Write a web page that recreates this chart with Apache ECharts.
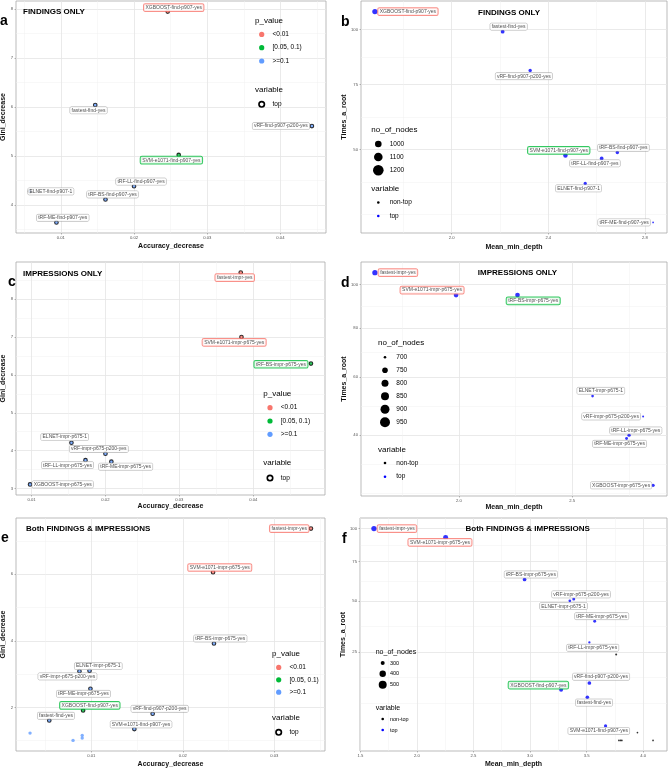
<!DOCTYPE html>
<html><head><meta charset="utf-8">
<script src="https://cdn.jsdelivr.net/npm/echarts@6/dist/echarts.min.js"></script>
<style>html,body{margin:0;padding:0;background:#fff}#c{width:669px;height:770px}</style>
</head><body><div id="c"></div><script>
// ---------------- DATA ----------------
const pLevels = ['<0.01', '[0.05, 0.1)', '>=0.1'];

// a: FINDINGS ONLY (Accuracy_decrease vs Gini_decrease)
const aNames = ['XGBOOST-find-p907-yes','fastest-find-yes','vRF-find-p907-p200-yes','SVM-e1071-find-p907-yes','tRF-LL-find-p907-yes','ELNET-find-p907-1','tRF-BS-find-p907-yes','tRF-ME-find-p907-yes'];
const aAcc  = [0.0246, 0.0147, 0.0443, 0.0261, 0.0200, 0.0058, 0.0161, 0.0094];
const aGini = [7.95, 6.04, 5.61, 5.02, 4.38, 4.28, 4.11, 3.64];
const aP    = ['<0.01','>=0.1','>=0.1','[0.05, 0.1)','>=0.1','>=0.1','>=0.1','>=0.1'];
const aTop  = [true,true,true,true,true,true,true,true];

// b: FINDINGS ONLY (Mean_min_depth vs Times_a_root)
const bNames = ['XGBOOST-find-p907-yes','fastest-find-yes','vRF-find-p907-p200-yes','SVM-e1071-find-p907-yes','tRF-BS-find-p907-yes','tRF-LL-find-p907-yes','ELNET-find-p907-1','tRF-ME-find-p907-yes'];
const bDepth = [1.682, 2.211, 2.325, 2.471, 2.686, 2.621, 2.553, 2.834];
const bRoot  = [109, 99, 81, 48, 49, 47, 39, 28];
const bNodes = [1230, 1005, 965, 1095, 965, 995, 955, 890];
const bP     = ['<0.01','>=0.1','>=0.1','[0.05, 0.1)','>=0.1','>=0.1','>=0.1','>=0.1'];
const bTop   = [true,true,true,true,true,true,true,true];

// c: IMPRESSIONS ONLY
const cNames = ['fastest-impr-yes','SVM-e1071-impr-p675-yes','tRF-BS-impr-p675-yes','ELNET-impr-p675-1','vRF-impr-p675-p200-yes','tRF-LL-impr-p675-yes','tRF-ME-impr-p675-yes','XGBOOST-impr-p675-yes'];
const cAcc  = [0.0383, 0.0384, 0.0478, 0.0154, 0.0200, 0.0173, 0.0208, 0.0098];
const cGini = [8.70, 7.00, 6.30, 4.21, 3.92, 3.75, 3.71, 3.11];
const cP    = ['<0.01','<0.01','[0.05, 0.1)','>=0.1','>=0.1','>=0.1','>=0.1','>=0.1'];
const cTop  = [true,true,true,true,true,true,true,true];

// d: IMPRESSIONS ONLY
const dNames = ['fastest-impr-yes','SVM-e1071-impr-p675-yes','tRF-BS-impr-p675-yes','ELNET-impr-p675-1','vRF-impr-p675-p200-yes','tRF-LL-impr-p675-yes','tRF-ME-impr-p675-yes','XGBOOST-impr-p675-yes'];
const dDepth = [1.630, 1.988, 2.259, 2.590, 2.813, 2.751, 2.740, 2.857];
const dRoot  = [106, 95, 95, 53, 46, 40, 39, 26];
const dNodes = [960, 870, 865, 690, 680, 725, 700, 725];
const dP     = ['<0.01','<0.01','[0.05, 0.1)','>=0.1','>=0.1','>=0.1','>=0.1','>=0.1'];
const dTop   = [true,true,true,true,true,true,true,true];

// e: Both FINDINGS & IMPRESSIONS
const eNames = ['fastest-impr-yes','SVM-e1071-impr-p675-yes','tRF-BS-impr-p675-yes','ELNET-impr-p675-1','vRF-impr-p675-p200-yes','tRF-ME-impr-p675-yes','XGBOOST-find-p907-yes','vRF-find-p907-p200-yes','fastest-find-yes','SVM-e1071-find-p907-yes','tRF-LL-find-p907-yes','ELNET-find-p907-1','tRF-BS-find-p907-yes','tRF-ME-find-p907-yes'];
const eAcc  = [0.0340, 0.0233, 0.0234, 0.0098, 0.0087, 0.0099, 0.0091, 0.0167, 0.0054, 0.0147, 0.0033, 0.0080, 0.0090, 0.0090];
const eGini = [7.37, 6.06, 3.92, 3.10, 3.09, 2.56, 1.91, 1.81, 1.61, 1.35, 1.23, 1.01, 1.16, 1.08];
const eP    = ['<0.01','<0.01','>=0.1','>=0.1','>=0.1','>=0.1','[0.05, 0.1)','>=0.1','>=0.1','>=0.1','>=0.1','>=0.1','>=0.1','>=0.1'];
const eTop  = [true,true,true,true,true,true,true,true,true,true,false,false,false,false];

// f: Both FINDINGS & IMPRESSIONS
const fNames = ['fastest-impr-yes','SVM-e1071-impr-p675-yes','tRF-BS-impr-p675-yes','vRF-impr-p675-p200-yes','ELNET-impr-p675-1','tRF-ME-impr-p675-yes','tRF-LL-impr-p675-yes','XGBOOST-impr-p675-yes','vRF-find-p907-p200-yes','XGBOOST-find-p907-yes','fastest-find-yes','SVM-e1071-find-p907-yes','tRF-LL-find-p907-yes','ELNET-find-p907-1','tRF-BS-find-p907-yes','tRF-ME-find-p907-yes','ELNET-impr-p675-0'];
const fDepth = [1.620, 2.254, 2.952, 3.387, 3.352, 3.572, 3.525, 3.762, 3.525, 3.275, 3.507, 3.668, 3.950, 3.786, 3.800, 3.812, 4.088];
const fRoot  = [100, 93, 63, 51, 50, 39, 29, 24, 14, 12, 10, 4, 3, 2, 2, 2, 2];
const fNodes = [540, 485, 305, 245, 225, 240, 210, 203, 305, 340, 300, 265, 200, 200, 200, 200, 200];
const fP     = ['<0.01','<0.01','>=0.1','>=0.1','>=0.1','>=0.1','>=0.1','>=0.1','>=0.1','[0.05, 0.1)','>=0.1','>=0.1','>=0.1','>=0.1','>=0.1','>=0.1','>=0.1'];
const fTop   = [true,true,true,true,true,true,true,false,true,true,true,true,false,false,false,false,false];

// tick labels
const aXTicks = [0.01, 0.02, 0.03, 0.04];   const aYTicks = [4, 5, 6, 7, 8];
const bXTicks = [2.0, 2.4, 2.8];            const bYTicks = [50, 75, 100];
const cXTicks = [0.01, 0.02, 0.03, 0.04];   const cYTicks = [3, 4, 5, 6, 7, 8];
const dXTicks = [2.0, 2.5];                 const dYTicks = [40, 60, 80, 100];
const eXTicks = [0.01, 0.02, 0.03];         const eYTicks = [2, 4, 6];
const fXTicks = [1.5, 2.0, 2.5, 3.0, 3.5, 4.0]; const fYTicks = [25, 50, 75, 100];

// legend breaks
const bSizeBreaks = [1000, 1100, 1200];
const dSizeBreaks = [700, 750, 800, 850, 900, 950];
const fSizeBreaks = [300, 400, 500];

// ---------------- LAYOUT / STYLE ----------------
const FONT = '"Liberation Sans", Arial, sans-serif';
const pColor = {'<0.01':'#F8766D','[0.05, 0.1)':'#00BA38','>=0.1':'#619CFF'};
const aLabelOffset = [[6,-4],[-6.7,5.3],[-31,0],[-7.3,5.3],[7,-4.7],[20.7,0.3],[7,-5],[6.3,-4.7]];
const bLabelOffset = [[33,0],[6,-5],[-6.3,5.7],[-6.7,-5],[6,-4.7],[-6.7,5],[-6.7,5],[-29,0]];
const cLabelOffset = [[-6,5],[-7.3,5.3],[-30,0.7],[-6.7,-5.7],[-6.7,-4.7],[-18,5],[14.3,5],[32.7,0]];
const dLabelOffset = [[23,0],[-24,-5],[15.7,5.7],[8.3,-5.3],[-32,0],[6.7,-4.7],[-7,5.3],[-32,0]];
const eLabelOffset = [[-21.7,0],[6.7,-4.7],[6.3,-5],[8.7,-4.7],[-12,5.3],[-7,5],[6.7,-5],[7,-5],[6.7,-4.7],[6.7,-4.7],null,null,null,null];
const fLabelOffset = [[23,0],[-5.7,5],[6.3,-5],[7.3,-4.7],[-6.3,5.3],[7,-5],[3.3,5.3],null,[11.7,-6.3],[-22.7,-4.7],[6.7,5.3],[-6.7,5],null,null,null,null,null];

const panels = [
  {kind:'imp', names:aNames, x:aAcc, y:aGini, p:aP, top:aTop, off:aLabelOffset, xt:aXTicks, yt:aYTicks, xdec:2, sqrt:false,
   grid:{left:16, top:1, width:310, height:232}, xName:'Accuracy_decrease', yName:'Gini_decrease', xGap:10, yGap:6.5},
  {kind:'depth', names:bNames, x:bDepth, y:bRoot, p:bP, top:bTop, nodes:bNodes, dmin:1.7, dmax:5.3, off:bLabelOffset, xt:bXTicks, yt:bYTicks, xdec:1, sqrt:true,
   grid:{left:361, top:1, width:306, height:232}, xName:'Mean_min_depth', yName:'Times_a_root', xGap:10.5, yGap:11.5},
  {kind:'imp', names:cNames, x:cAcc, y:cGini, p:cP, top:cTop, off:cLabelOffset, xt:cXTicks, yt:cYTicks, xdec:2, sqrt:false,
   grid:{left:16, top:262, width:309, height:233}, xName:'Accuracy_decrease', yName:'Gini_decrease', xGap:8, yGap:6.5},
  {kind:'depth', names:dNames, x:dDepth, y:dRoot, p:dP, top:dTop, nodes:dNodes, dmin:2, dmax:5.3, off:dLabelOffset, xt:dXTicks, yt:dYTicks, xdec:1, sqrt:true,
   grid:{left:361, top:262, width:306, height:234}, xName:'Mean_min_depth', yName:'Times_a_root', xGap:8, yGap:11.5},
  {kind:'imp', names:eNames, x:eAcc, y:eGini, p:eP, top:eTop, off:eLabelOffset, xt:eXTicks, yt:eYTicks, xdec:2, sqrt:false,
   grid:{left:16, top:518, width:309, height:233}, xName:'Accuracy_decrease', yName:'Gini_decrease', xGap:10, yGap:6.5},
  {kind:'depth', names:fNames, x:fDepth, y:fRoot, p:fP, top:fTop, nodes:fNodes, dmin:1.7, dmax:5.3, off:fLabelOffset, xt:fXTicks, yt:fYTicks, xdec:1, sqrt:true,
   grid:{left:360, top:518, width:307, height:233}, xName:'Mean_min_depth', yName:'Times_a_root', xGap:10, yGap:9.5}
];

function expand(vals){const mn=Math.min(...vals),mx=Math.max(...vals),r=mx-mn;return [mn-0.05*r,mx+0.05*r];}
function regularMinor(b, lo, hi){
  b=b.slice(); const bd=b[1]-b[0];
  if(lo<b[0]) b.unshift(b[0]-bd);
  if(hi>b[b.length-1]) b.push(b[b.length-1]+bd);
  const out=[];
  for(let i=0;i<b.length-1;i++){out.push((b[i]+b[i+1])/2); if(i>0) {} }
  out.push(b[0]); out.push(b[b.length-1]);
  return out.filter(v=>v>lo&&v<hi);
}

const grids=[], xMajor=[], yMajor=[], xMinor=[], yMinor=[], series=[];
const tickLabelStyle={fontSize:4.2, color:'#555', fontFamily:FONT};
const nameStyle={fontSize:7, fontWeight:'bold', color:'#111', fontFamily:FONT};

panels.forEach((P, k)=>{
  grids.push(Object.assign({show:true, borderColor:'#a9a9a9', borderWidth:0.8, backgroundColor:'#fff', containLabel:false, outerBoundsMode:'none'}, P.grid));
  const yT = P.sqrt ? P.y.map(Math.sqrt) : P.y.slice();
  const [xlo,xhi]=expand(P.x), [ylo,yhi]=expand(yT);
  const xMaj=P.xt.slice(), yMaj=P.sqrt? P.yt.map(Math.sqrt): P.yt.slice();
  const xMin=regularMinor(xMaj,xlo,xhi), yMin=regularMinor(yMaj,ylo,yhi);
  const xfmt = v=>(+v).toFixed(P.xdec);
  const yfmt = P.sqrt ? (v=>String(Math.round(v*v))) : (v=>String(Math.round(v)));
  xMajor.push({type:'value', gridIndex:k, min:xlo, max:xhi, position:'bottom',
    axisLine:{show:false}, axisTick:{show:true, length:1.5, customValues:xMaj, lineStyle:{color:'#777', width:0.5}},
    axisLabel:Object.assign({show:true, customValues:xMaj, formatter:xfmt, margin:3}, tickLabelStyle),
    splitLine:{show:true, lineStyle:{color:'#e4e4e4', width:0.8}},
    name:P.xName, nameLocation:'middle', nameGap:P.xGap, nameTextStyle:nameStyle});
  yMajor.push({type:'value', gridIndex:k, min:ylo, max:yhi, position:'left',
    axisLine:{show:false}, axisTick:{show:true, length:1.5, customValues:yMaj, lineStyle:{color:'#777', width:0.5}},
    axisLabel:Object.assign({show:true, customValues:yMaj, formatter:yfmt, margin:3}, tickLabelStyle),
    splitLine:{show:true, lineStyle:{color:'#e4e4e4', width:0.8}},
    name:P.yName, nameLocation:'middle', nameGap:P.yGap, nameTextStyle:nameStyle});
  xMinor.push({type:'value', gridIndex:k, min:xlo, max:xhi, position:'top', axisLine:{show:false},
    axisTick:{show:false, customValues:xMin}, axisLabel:{show:false, customValues:xMin},
    splitLine:{show:true, lineStyle:{color:'#f1f1f1', width:0.5}}});
  yMinor.push({type:'value', gridIndex:k, min:ylo, max:yhi, position:'right', axisLine:{show:false},
    axisTick:{show:false, customValues:yMin}, axisLabel:{show:false, customValues:yMin},
    splitLine:{show:true, lineStyle:{color:'#f1f1f1', width:0.5}}});

  let sizeOf=null;
  if(P.kind==='depth'){const mn=Math.min(...P.nodes),mx=Math.max(...P.nodes);
    sizeOf=n=>P.dmin+(P.dmax-P.dmin)*Math.sqrt((n-mn)/(mx-mn));}
  const data=P.names.map((nm,i)=>{
    const top=P.top[i];
    const it={name:nm, value:[P.x[i], yT[i]]};
    if(P.kind==='imp'){
      it.symbolSize = top?3.6:3.4;
      it.itemStyle = top?{color:pColor[P.p[i]], borderColor:'#000', borderWidth:1.1}:{color:pColor[P.p[i]], borderWidth:0};
    } else {
      it.symbolSize = sizeOf(P.nodes[i]);
      it.itemStyle = {color: top?'#0000FF':'#000', borderWidth:0};
    }
    const off=P.off[i];
    if(top && off){
      const sig=P.p[i]!=='>=0.1';
      it.label={show:true, formatter:nm, position:'inside', offset:off, fontSize:5, lineHeight:5.2, fontFamily:FONT,
        color:'#1a1a1a', backgroundColor:'#fff', borderColor:sig?pColor[P.p[i]]:'#9a9a9a', borderWidth:sig?1:0.5,
        borderRadius:1.2, padding:[0.9,1.5,0.6,1.5]};
    } else it.label={show:false};
    return it;
  });
  series.push({type:'scatter', xAxisIndex:k, yAxisIndex:k, symbol:'circle', data, silent:true, animation:false,
    emphasis:{disabled:true}, clip:false, z:3});
});

// ---------------- GRAPHIC TEXT / LEGENDS ----------------
const G=[];
function txt(t,x,y,size,bold,align,va){G.push({type:'text', x, y, silent:true, z:50,
  style:{text:t, fontSize:size, fontWeight:bold?'bold':'normal', fontFamily:FONT, fill:'#000', align:align||'left', verticalAlign:va||'middle'}});}
function circ(x,y,r,fill,stroke,lw){G.push({type:'circle', x, y, silent:true, z:50, shape:{r}, style:{fill, stroke:stroke||null, lineWidth:lw||0}});}

// panel letters
txt('a',0,14,14,true,'left','alphabetic'); txt('b',341,15,14,true,'left','alphabetic');
txt('c',8,275,14,true,'left','alphabetic'); txt('d',341,276,14,true,'left','alphabetic');
txt('e',1,531,14,true,'left','alphabetic'); txt('f',342,532,14,true,'left','alphabetic');
// titles
txt('FINDINGS ONLY',23,12,8,true,'left'); txt('FINDINGS ONLY',509,12.7,8,true,'center');
txt('IMPRESSIONS ONLY',23,274,8,true,'left'); txt('IMPRESSIONS ONLY',517.5,273,8,true,'center');
txt('Both FINDINGS & IMPRESSIONS',26,529,8,true,'left'); txt('Both FINDINGS & IMPRESSIONS',527.7,529,8,true,'center');

function pLegend(x0,yT,dy,yVar){
  txt('p_value',x0,yT,8,false);
  pLevels.forEach((l,i)=>{circ(x0+6.7,yT+13.7+i*dy,2.6,pColor[l]); txt(l,x0+17.5,yT+13.7+i*dy,6.5,false);});
  txt('variable',x0,yVar,8,false);
  circ(x0+6.7,yVar+15,2.7,'#fff','#000',1.7); txt('top',x0+17.5,yVar+15,6.5,false);
}
pLegend(255,20.7,13.3,89.3);
pLegend(263.3,394,13.3,463);
pLegend(272,653.7,12.4,717.3);

function sLegend(x0,yT,breaks,ys,rs,tx,yVar,dyVar,fs,tfs){
  txt('no_of_nodes',x0,yT,tfs,false);
  breaks.forEach((b,i)=>{circ(x0+7,ys[i],rs[i],'#000'); txt(String(b),tx,ys[i],fs,false);});
  txt('variable',x0,yVar,tfs,false);
  circ(x0+7,yVar+dyVar,1.3,'#000'); txt('non-top',tx,yVar+dyVar,fs,false);
  circ(x0+7,yVar+2*dyVar,1.3,'#0000FF'); txt('top',tx,yVar+2*dyVar,fs,false);
}
sLegend(371.3,129.7,bSizeBreaks,[144,157,170.3],[3.3,4.3,5.3],389.7,189,13.5,6.5,8);
sLegend(378,342.7,dSizeBreaks,[357.3,370.3,383.2,396.2,409.2,422.3],[1.3,2.8,3.5,4,4.5,5],396.3,449.3,13.7,6.5,8);
sLegend(375.7,652,fSizeBreaks,[663,673.8,684.7],[2,3.2,4],390,708,11,5.5,7);

const chart=echarts.init(document.getElementById('c'),null,{renderer:'canvas'});
chart.setOption({animation:false, backgroundColor:'#fff', grid:grids,
  xAxis:xMajor.concat(xMinor), yAxis:yMajor.concat(yMinor), series, graphic:G});
</script></body></html>
